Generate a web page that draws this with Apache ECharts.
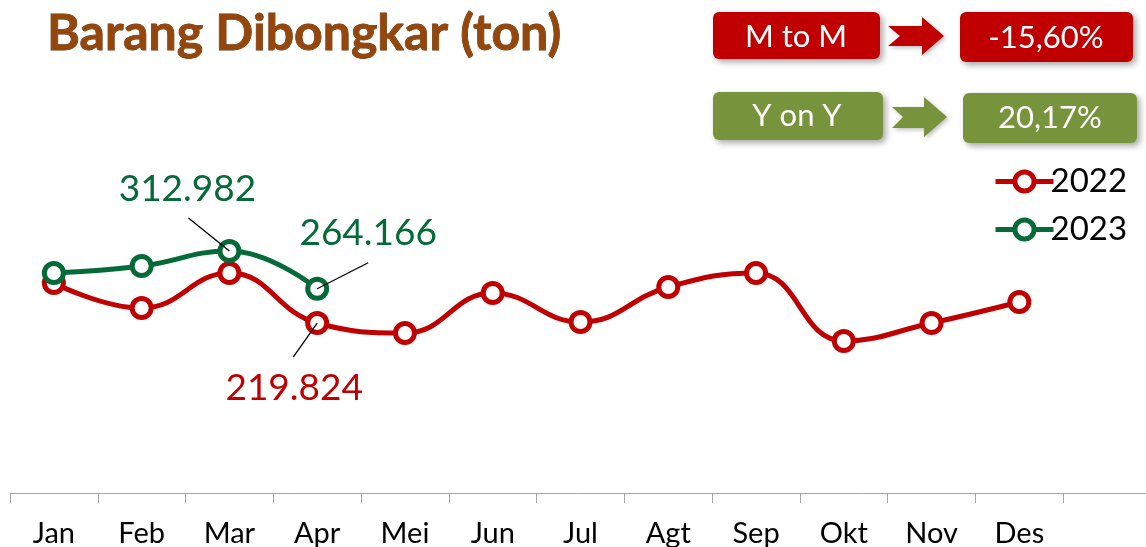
<!DOCTYPE html>
<html>
<head>
<meta charset="utf-8">
<script src="https://cdn.jsdelivr.net/npm/echarts@6/dist/echarts.min.js"></script>
<style>
  html, body { margin: 0; padding: 0; background: #fff; }
  #chart { width: 1146px; height: 547px; }
</style>
</head>
<body>
<div id="chart"></div>
<script>
// ---- data (tons) ----
const months = ['Jan', 'Feb', 'Mar', 'Apr', 'Mei', 'Jun', 'Jul', 'Agt', 'Sep', 'Okt', 'Nov', 'Des'];
const values2022 = [271600, 239200, 284500, 219824, 206900, 258600, 221100, 266400, 284500, 196600, 219800, 247000];
const values2023 = [284500, 293500, 312982, 264166];
const seriesNames = ['2022', '2023'];
const labelled2022 = [3];
const labelled2023 = [2, 3];

const RED = '#C00000';
const GREEN = '#046A38';
const OLIVE = '#77933C';
const FONT = 'Lato';

function fmtId(v) {
  return String(Math.round(v)).replace(/\B(?=(\d{3})+(?!\d))/g, '.');
}
function fmtPct(v) {
  return v.toFixed(2).replace('.', ',') + '%';
}
const last = values2023.length - 1;
const mtm = (values2023[last] / values2023[last - 1] - 1) * 100;
const yoy = (values2023[last] / values2022[last] - 1) * 100;

const categories = months.concat(['']);

const labelOffsets = {
  '2023-2': [-42, -62],
  '2023-3': [51, -56],
  '2022-3': [-23, 65]
};
const leaderStarts = {
  '2023-2': [-41, -33],
  '2023-3': [51, -26],
  '2022-3': [-24, 34]
};

function buildData(vals, labelled, key, color) {
  return vals.map((v, i) => {
    if (labelled.indexOf(i) >= 0) {
      return {
        value: v,
        label: {
          show: true,
          position: 'inside',
          offset: labelOffsets[key + '-' + i],
          formatter: p => fmtId(p.value),
          color: color,
          fontFamily: FONT,
          fontSize: 37
        }
      };
    }
    return v;
  });
}

const chart = echarts.init(document.getElementById('chart'), null, { renderer: 'canvas' });

function box(x, y, w, h, fill) {
  return {
    type: 'rect',
    shape: { x: x, y: y, width: w, height: h, r: 6 },
    style: { fill: fill, shadowBlur: 6, shadowOffsetX: 3, shadowOffsetY: 3, shadowColor: 'rgba(0,0,0,0.35)' },
    z: 10
  };
}
function boxText(x, y, text) {
  return {
    type: 'text',
    x: x, y: y,
    style: { text: text, fill: '#fff', font: '31px ' + FONT, align: 'center', verticalAlign: 'middle' },
    z: 11
  };
}
function arrow(pts, fill) {
  return {
    type: 'polygon',
    shape: { points: pts },
    style: { fill: fill, shadowBlur: 4, shadowOffsetX: 2, shadowOffsetY: 2, shadowColor: 'rgba(0,0,0,0.25)' },
    z: 10
  };
}

function lineSeries(name, vals, labelled, key, color, z) {
  return {
    name: name,
    type: 'line',
    smooth: 0.45,
    data: buildData(vals, labelled, key, color),
    symbol: 'circle',
    symbolSize: 19,
    lineStyle: { color: color, width: 5 },
    itemStyle: { color: '#fff', borderColor: color, borderWidth: 5 },
    z: z
  };
}

const option = {
  animation: false,
  backgroundColor: '#fff',
  grid: { left: 10, width: 1141, top: 29, bottom: 54, outerBoundsMode: 'none', containLabel: false },
  xAxis: {
    type: 'category',
    data: categories,
    boundaryGap: true,
    axisLine: { lineStyle: { color: '#A6A6A6', width: 1 } },
    axisTick: { show: true, length: 10, lineStyle: { color: '#A6A6A6' } },
    axisLabel: { color: '#000', fontFamily: FONT, fontSize: 29, margin: 26 }
  },
  yAxis: {
    type: 'value',
    min: 0,
    max: 600000,
    show: false,
    splitLine: { show: false }
  },
  legend: {
    orient: 'vertical',
    left: 988,
    top: 160,
    itemWidth: 58,
    itemHeight: 24,
    itemGap: 15,
    lineStyle: { width: 5 },
    itemStyle: { borderWidth: 5, color: '#fff' },
    textStyle: { fontFamily: FONT, fontSize: 33, color: '#000', padding: [0, 0, 0, -8] },
    data: seriesNames
  },
  series: [
    lineSeries(seriesNames[0], values2022, labelled2022, '2022', RED, 2),
    lineSeries(seriesNames[1], values2023, labelled2023, '2023', GREEN, 3)
  ],
  graphic: [
    {
      type: 'text',
      x: 47, y: 34,
      style: {
        text: 'Barang Dibongkar (ton)',
        font: 'bold 50px ' + FONT,
        fill: '#94470C',
        stroke: '#6A3008',
        lineWidth: 0.8,
        verticalAlign: 'middle',
        shadowBlur: 3, shadowOffsetX: 1, shadowOffsetY: 1, shadowColor: 'rgba(60,25,0,0.5)'
      },
      z: 10
    },
    box(713, 12, 167, 47, RED),
    boxText(796, 37, 'M to M'),
    arrow([[888, 26], [922, 26], [922, 17], [944, 36], [922, 55], [922, 46], [888, 46], [900, 36]], RED),
    box(960, 12, 173, 50, RED),
    boxText(1046, 38, fmtPct(mtm)),
    box(713, 92, 170, 48, OLIVE),
    boxText(797, 116, 'Y on Y'),
    arrow([[892, 107], [924, 107], [924, 97], [947, 117], [924, 137], [924, 128], [892, 128], [903, 117]], OLIVE),
    box(963, 93, 174, 50, OLIVE),
    boxText(1050, 118, fmtPct(yoy))
  ]
};

chart.setOption(option);

// leader lines from labels to their points, positioned through the chart's own scales
const leaders = [];
function addLeaders(seriesIndex, vals, labelled, key) {
  labelled.forEach(i => {
    const p = chart.convertToPixel({ seriesIndex: seriesIndex }, [i, vals[i]]);
    const s = leaderStarts[key + '-' + i];
    leaders.push({
      type: 'line',
      shape: { x1: p[0] + s[0], y1: p[1] + s[1], x2: p[0], y2: p[1] },
      style: { stroke: '#000', lineWidth: 1.3 },
      z: 20
    });
  });
}
addLeaders(0, values2022, labelled2022, '2022');
addLeaders(1, values2023, labelled2023, '2023');
chart.setOption({ graphic: option.graphic.concat(leaders) });
</script>
</body>
</html>
